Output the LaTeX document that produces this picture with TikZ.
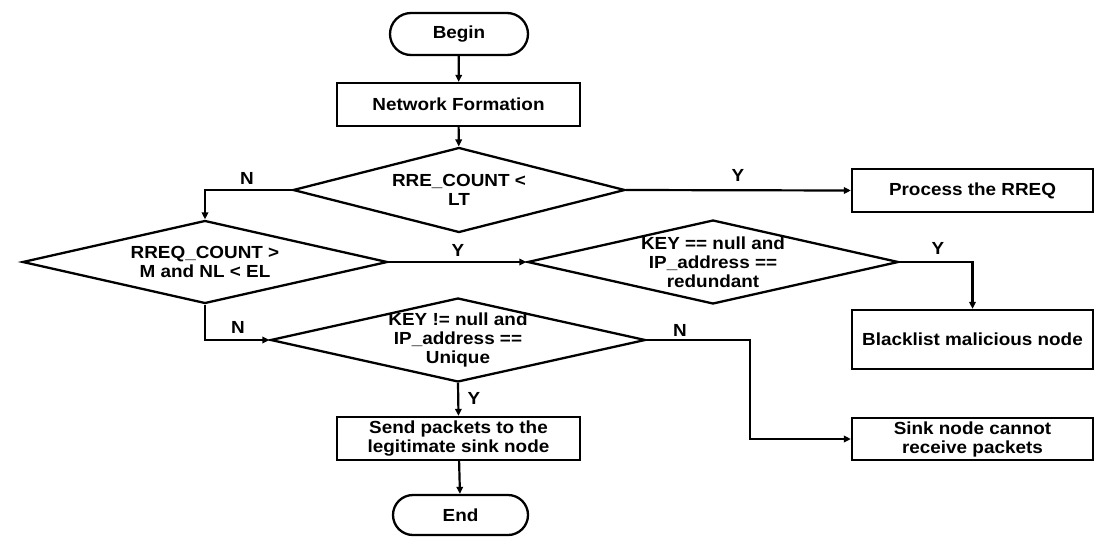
\documentclass[tikz,border=0pt]{standalone}
\usepackage{fontspec}
\setmainfont{Liberation Sans}[FakeStretch=1.08]
\usetikzlibrary{shapes.geometric,shapes.misc,arrows.meta}
\begin{document}
\begin{tikzpicture}[x=1pt,y=-1pt,
  every node/.style={font=\fontsize{17.5}{19}\selectfont\bfseries},
  shapeline/.style={draw=black,line width=2.3pt},
  terminal/.style={shapeline,rounded rectangle,inner sep=0pt},
  process/.style={shapeline,rectangle,inner sep=0pt,align=center},
  decision/.style={shapeline,diamond,inner sep=0pt},
  dtext/.style={align=center,inner sep=0pt},
  flow/.style={line width=2.2pt,-{Triangle[length=7pt,width=6.5pt]}},
  tag/.style={inner sep=0pt}]
\useasboundingbox (0,0) rectangle (1095,536);

% terminals and process boxes
\node[terminal,minimum width=138pt,minimum height=42pt] (begin) at (459,34) {Begin};
\node[process,minimum width=243pt,minimum height=43pt] (net) at (458.5,104.5) {Network Formation};
\node[process,minimum width=241pt,minimum height=43pt] (proc) at (972.5,190.5) {Process the RREQ};
\node[process,minimum width=241pt,minimum height=59pt] (black) at (972.5,339.5) {Blacklist malicious node};
\node[process,minimum width=241pt,minimum height=42pt] (sink) at (972.5,439) {Sink node cannot\\receive packets};
\node[process,minimum width=243pt,minimum height=43pt] (send) at (458.5,438.5) {Send packets to the\\legitimate sink node};
\node[terminal,minimum width=135pt,minimum height=40pt] (end) at (460.5,515) {End};

% decisions (outline) and their conditions
\node[decision,minimum width=332pt,minimum height=85pt] (d1) at (459,190) {};
\node[dtext] (t1) at (d1) {RRE\_COUNT <\\LT};
\node[decision,minimum width=365pt,minimum height=83pt] (d2) at (205,262) {};
\node[dtext] (t2) at (d2) {RREQ\_COUNT >\\M and NL < EL};
\node[decision,minimum width=371pt,minimum height=84pt] (d3) at (713,262) {};
\node[dtext] (t3) at (d3) {KEY == null and\\IP\_address ==\\redundant};
\node[decision,minimum width=375pt,minimum height=84pt] (d4) at (458,340) {};
\node[dtext] (t4) at (d4) {KEY != null and\\IP\_address ==\\Unique};

% connectors
\coordinate (nbend) at (750,340);
\draw[flow] (begin) -- (net);
\draw[flow] (net) -- (d1);
\draw[flow] (d1.west) -| (d2.north);
\draw[flow] (d1.east) -- (proc.west);
\draw[flow] (d2.east) -- (d3.west);
\draw[flow] (d2.south) |- (d4.west);
\draw[flow] (d3.east) -| (black.north);
\draw[flow] (d4.east) -- (nbend) |- (sink.west);
\draw[flow] (d4.south) -- (send.north);
\draw[flow] (send) -- (end);

% branch labels
\node[tag] (n1) at (247,178) {N};
\node[tag] (y1) at (738,175) {Y};
\node[tag] (y2) at (458,250) {Y};
\node[tag] (n2) at (238,327) {N};
\node[tag] (y3) at (938,248) {Y};
\node[tag] (n3) at (680,330) {N};
\node[tag] (y4) at (474,398) {Y};
\end{tikzpicture}
\end{document}
